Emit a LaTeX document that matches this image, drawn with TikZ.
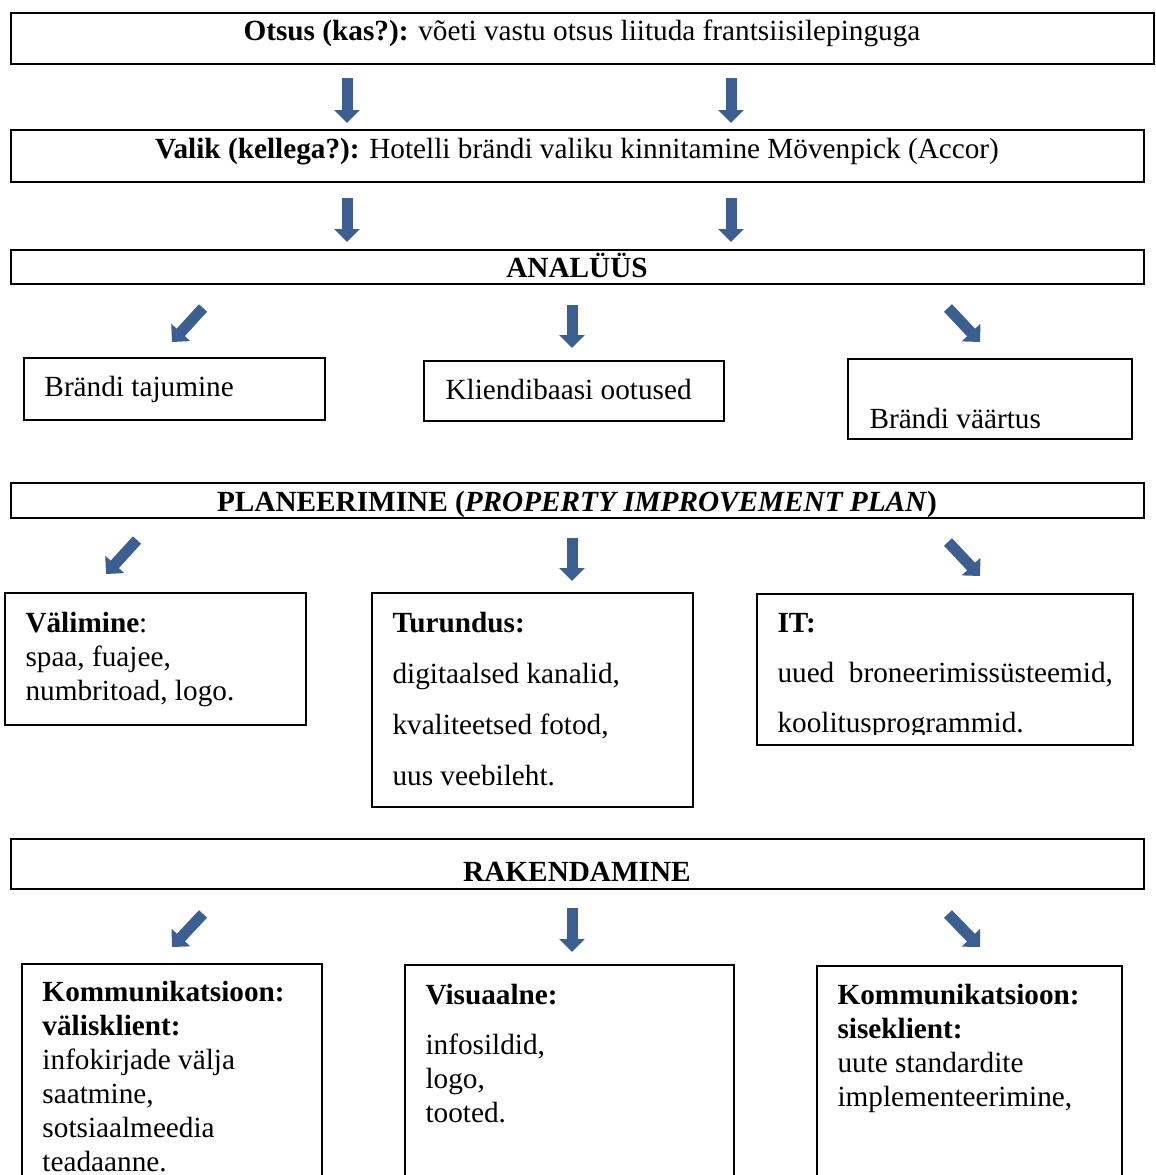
\documentclass[tikz,border=0pt]{standalone}
\usepackage{fontspec}
\setmainfont{Liberation Serif}
\usetikzlibrary{arrows.meta,fit}
\definecolor{arrowblue}{RGB}{59,95,145}
\tikzset{
  frame/.style={draw=black, line width=0.5pt, inner sep=0pt},
  bigarrow/.style={draw=arrowblue, line width=4.4pt, -{Triangle[width=10pt,length=5.2pt]}},
  head/.style={anchor=base, inner sep=0pt, font=\fontsize{11.7}{13.6}\selectfont},
  txt/.style={anchor=north west, inner sep=0pt, align=left, font=\fontsize{11.7}{13.6}\selectfont},
}
\begin{document}
\begin{tikzpicture}[x=0.4pt,y=-0.4pt]
    \useasboundingbox (0,0) rectangle (1155,1175);
    % Main stages
    \node[frame, fit={(11,13) (1154,64)}] (otsusbox) {};
    \node[head] (otsus) at (582,40) {\textbf{Otsus (kas?):} võeti vastu otsus liituda frantsiisilepinguga};
    \node[frame, fit={(11,130) (1144,182)}] (valikbox) {};
    \node[head] (valik) at (577,158) {\textbf{Valik (kellega?):} Hotelli brändi valiku kinnitamine Mövenpick (Accor)};
    \node[frame, fit={(11,250) (1144,284)}] (analyysbox) {};
    \node[head] (analyys) at (577,277) {\textbf{ANALÜÜS}};
    \node[frame, fit={(11,483) (1144,518)}] (planbox) {};
    \node[head] (plan) at (577,511) {\textbf{PLANEERIMINE (\textit{PROPERTY IMPROVEMENT PLAN})}};
    \node[frame, fit={(11,839) (1144,889)}] (rakbox) {};
    \node[head] (rak) at (577,881) {\textbf{RAKENDAMINE}};
    % Analysis boxes
    \node[frame, fit={(24,358) (325,420)}] (tajubox) {};
    \node[head, anchor=base west] (taju) at (44,396) {Brändi tajumine};
    \node[frame, fit={(424,361) (724,421)}] (kliendbox) {};
    \node[head, anchor=base west] (kliend) at (445,399) {Kliendibaasi ootused};
    \node[frame, fit={(848,359) (1132,439)}] (vaartbox) {};
    \node[head, anchor=base west] (vaart) at (869,428) {Brändi väärtus};
    % Planning boxes
    \node[frame, fit={(5,593) (306,725)}] (valbox) {};
    \node[txt] (val) at (25,612) {\textbf{Välimine}:\\ spaa, fuajee,\\ numbritoad, logo.};
    \node[frame, fit={(372,593) (693,807)}] (turbox) {};
    \node[txt] (tur) at (392,612) {\textbf{Turundus:}\\[6.8pt] digitaalsed kanalid,\\[6.8pt] kvaliteetsed fotod,\\[6.8pt] uus veebileht.};
    \node[frame, fit={(757,594) (1133,745)}] (itbox) {};
    \begin{scope}
      \clip (757,594) rectangle (1133,734);
      \node[txt] (it) at (777,613) {\textbf{IT:}\\[6.4pt] uued\ \ broneerimissüsteemid,\\[6.4pt] koolitusprogrammid.};
    \end{scope}
    % Implementation boxes (cut off at the bottom)
    \coordinate (valisk) at (22,964);
    \draw[line width=0.5pt] (22,1175) |- (322,964) -- (322,1175);
    \node[txt] (valk) at (42,981) {\textbf{Kommunikatsioon:}\\ \textbf{välisklient:}\\ infokirjade välja\\ saatmine,\\ sotsiaalmeedia\\ teadaanne.};
    \coordinate (visk) at (405,965);
    \draw[line width=0.5pt] (405,1175) |- (734,965) -- (734,1175);
    \node[txt] (vis) at (425,984) {\textbf{Visuaalne:}\\[6.4pt] infosildid,\\ logo,\\ tooted.};
    \coordinate (sisek) at (817,966);
    \draw[line width=0.5pt] (817,1175) |- (1122,966) -- (1122,1175);
    \node[txt] (sis) at (837,984) {\textbf{Kommunikatsioon:}\\ \textbf{siseklient:}\\ uute standardite\\ implementeerimine,};
    % Arrows
    \foreach \n/\xa/\ya/\xb/\yb in {o1/347/78/347/123, o2/731/78/731/123,
        v1/347/198/347/242, v2/731/198/731/242,
        a1/203/308/172/342, a2/572/305/572/348, a3/948/308/980/342,
        p1/137/540/106/574, p2/572/538/572/581, p3/948/542/980/576,
        r1/203/914/172/947, r2/572/908/572/952, r3/948/914/980/947} {
      \coordinate (\n-s) at (\xa,\ya);
      \coordinate (\n-e) at (\xb,\yb);
      \draw[bigarrow] (\n-s) -- (\n-e);
    }
\end{tikzpicture}
\end{document}
